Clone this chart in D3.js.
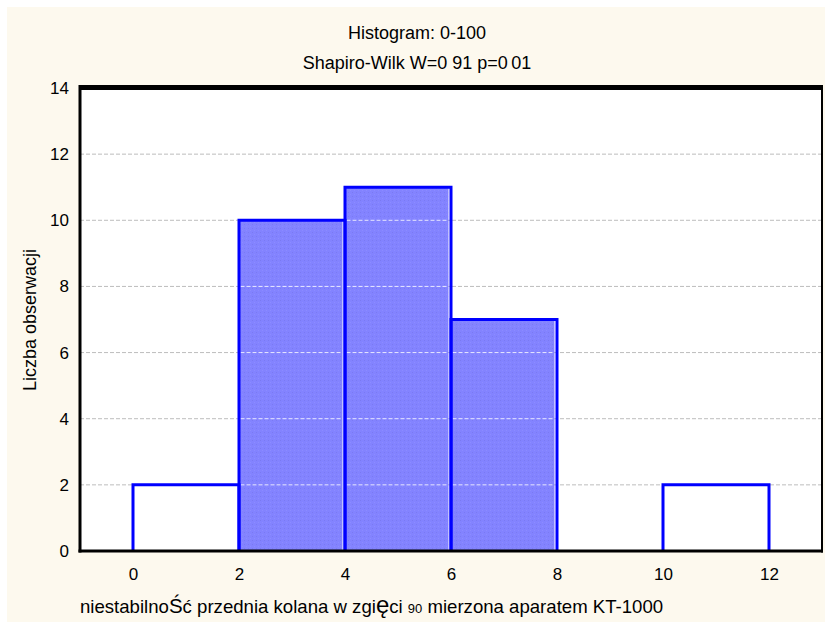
<!DOCTYPE html>
<html>
<head>
<meta charset="utf-8">
<script src="https://cdn.jsdelivr.net/npm/d3@7"></script>
<style>
  html, body { margin: 0; padding: 0; background: #ffffff; }
  svg { display: block; }
  text { font-family: "Liberation Sans", Arial, sans-serif; fill: #000; }
</style>
</head>
<body>
<svg id="chart" width="825" height="624"></svg>
<script>
// Histogram bins (lower edge, upper edge) and counts
const binStart = [0, 2, 4, 6, 8, 10];
const binEnd   = [2, 4, 6, 8, 10, 12];
const counts   = [2, 10, 11, 7, 0, 2];
// Which bins are shaded
const shaded   = [false, true, true, true, false, false];

const xTicks = [0, 2, 4, 6, 8, 10, 12];
const yTicks = [0, 2, 4, 6, 8, 10, 12, 14];

const title1 = "Histogram: 0-100";
const title2 = "Shapiro-Wilk W=0 91 p=0\u200901";
const yLabel = "Liczba obserwacji";

const W = 825, H = 624;
const plot = { left: 80, right: 822, top: 88, bottom: 551 };

const svg = d3.select("#chart");

// cream panel
svg.append("rect").attr("x", 7).attr("y", 7).attr("width", W - 7).attr("height", H - 9)
  .attr("fill", "#fdf9ee");

const x = d3.scaleLinear().domain([-1, 13]).range([plot.left, plot.right]);
const y = d3.scaleLinear().domain([0, 14]).range([plot.bottom, plot.top]);

// plot background
svg.append("rect")
  .attr("x", plot.left).attr("y", plot.top)
  .attr("width", plot.right - plot.left).attr("height", plot.bottom - plot.top)
  .attr("fill", "#ffffff");

// dithered fill pattern
const defs = svg.append("defs");
const pat = defs.append("pattern").attr("id", "dither")
  .attr("width", 4).attr("height", 4).attr("patternUnits", "userSpaceOnUse");
pat.append("rect").attr("width", 4).attr("height", 4).attr("fill", "#8383ff");
pat.append("rect").attr("x", 0).attr("y", 0).attr("width", 1).attr("height", 1).attr("fill", "#7a7af2");
pat.append("rect").attr("x", 2).attr("y", 2).attr("width", 1).attr("height", 1).attr("fill", "#8c8cff");

const bins = counts.map((c, i) => ({ x0: binStart[i], x1: binEnd[i], n: c, shaded: shaded[i] }));

// grid lines under bars
const grid = svg.append("g");
grid.selectAll("line").data(yTicks.filter(t => t > 0 && t < 14)).join("line")
  .attr("x1", plot.left).attr("x2", plot.right)
  .attr("y1", d => y(d)).attr("y2", d => y(d))
  .attr("stroke", "#bdbdbd").attr("stroke-width", 1).attr("stroke-dasharray", "4,2");

// bar fills
svg.append("g").selectAll("rect").data(bins.filter(b => b.n > 0)).join("rect")
  .attr("x", d => x(d.x0))
  .attr("y", d => y(d.n))
  .attr("width", d => x(d.x1) - x(d.x0) - 2.5)
  .attr("height", d => y(0) - y(d.n))
  .attr("fill", d => d.shaded ? "url(#dither)" : "#ffffff");

// light grid lines across shaded bars
const shadedBins = bins.filter(b => b.shaded && b.n > 0);
const overGrid = svg.append("g");
shadedBins.forEach(b => {
  overGrid.selectAll(null).data(yTicks.filter(t => t > 0 && t < b.n)).join("line")
    .attr("x1", x(b.x0) + 1.5).attr("x2", x(b.x1) - 2.5)
    .attr("y1", d => y(d)).attr("y2", d => y(d))
    .attr("stroke", "#e8e8ff").attr("stroke-width", 1).attr("stroke-dasharray", "4,2");
});

// bar outlines: left, top, right
svg.append("g").selectAll("path").data(bins.filter(b => b.n > 0)).join("path")
  .attr("d", d => `M${x(d.x0)},${y(0)}V${y(d.n)}H${x(d.x1)}V${y(0)}`)
  .attr("fill", "none").attr("stroke", "#0000ff").attr("stroke-width", 3);

// frame
svg.append("line").attr("x1", plot.left - 1).attr("x2", plot.right + 1).attr("y1", plot.top - 0.5).attr("y2", plot.top - 0.5)
  .attr("stroke", "#000").attr("stroke-width", 5);
svg.append("line").attr("x1", plot.left).attr("x2", plot.left).attr("y1", plot.top - 3).attr("y2", plot.bottom + 1.5)
  .attr("stroke", "#000").attr("stroke-width", 3);
svg.append("line").attr("x1", plot.right).attr("x2", plot.right).attr("y1", plot.top - 3).attr("y2", plot.bottom + 1.5)
  .attr("stroke", "#000").attr("stroke-width", 2);
svg.append("line").attr("x1", plot.left - 1.5).attr("x2", plot.right + 1).attr("y1", plot.bottom).attr("y2", plot.bottom)
  .attr("stroke", "#000").attr("stroke-width", 3);

// axes (labels only)
const xAxis = svg.append("g").attr("transform", `translate(0,${plot.bottom + 17})`)
  .call(d3.axisBottom(x).tickValues(xTicks).tickSize(0).tickPadding(0));
xAxis.select(".domain").remove();
xAxis.selectAll("text").attr("font-size", 17).attr("dy", "0.71em");

const yAxis = svg.append("g").attr("transform", `translate(${plot.left - 11},0)`)
  .call(d3.axisLeft(y).tickValues(yTicks).tickSize(0).tickPadding(0));
yAxis.select(".domain").remove();
yAxis.selectAll("text").attr("font-size", 17).attr("dy", "0.32em");
svg.selectAll(".tick text").style("font-family", "'Liberation Sans', Arial, sans-serif").attr("fill", "#000");

// titles
svg.append("text").attr("x", 417).attr("y", 39).attr("text-anchor", "middle")
  .attr("font-size", 18).text(title1);
svg.append("text").attr("x", 417).attr("y", 69).attr("text-anchor", "middle")
  .attr("font-size", 18).text(title2);

// y label
svg.append("text").attr("transform", "translate(36,320) rotate(-90)")
  .attr("text-anchor", "middle").attr("font-size", 18).text(yLabel);

// x label with mixed glyph sizes
const xl = svg.append("text").attr("x", 80).attr("y", 613).attr("font-size", 18.6);
xl.append("tspan").text("niestabilno");
xl.append("tspan").attr("font-size", 20.5).text("Ś");
xl.append("tspan").text("ć przednia kolana w zgi");
xl.append("tspan").attr("font-size", 24).text("ę");
xl.append("tspan").text("ci ");
xl.append("tspan").attr("font-size", 13).text("90");
xl.append("tspan").text(" mierzona aparatem KT-1000");
</script>
</body>
</html>
